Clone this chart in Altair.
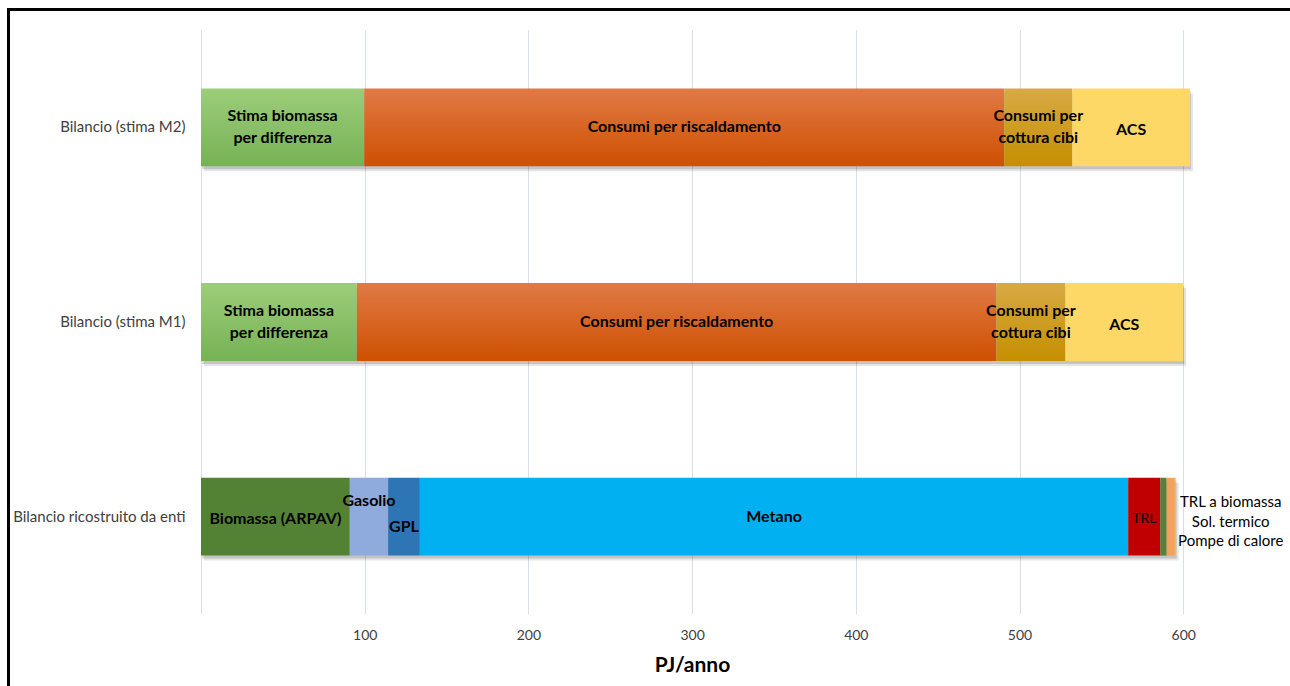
import altair as alt
import pandas as pd

# Energy balance rows (top to bottom)
bilanci = ["Bilancio (stima M2)", "Bilancio (stima M1)", "Bilancio ricostruito da enti"]

# Components of the two estimated balances
stima_fonti = ["Stima biomassa per differenza", "Consumi per riscaldamento",
               "Consumi per cottura cibi", "ACS"]
stima_m2 = [99.7, 391.0, 41.5, 71.9]
stima_m1 = [95.2, 390.7, 42.1, 72.0]

# Components of the balance rebuilt from the agencies' data
enti_fonti = ["Biomassa (ARPAV)", "Gasolio", "GPL", "Metano", "TRL",
              "TRL a biomassa", "Sol. termico", "Pompe di calore"]
enti_valori = [90.9, 23.4, 19.4, 432.7, 19.6, 3.9, 4.9, 0.6]

# Text written on each segment
etichette = {
    "Stima biomassa per differenza": "Stima biomassa\nper differenza",
    "Consumi per riscaldamento": "Consumi per riscaldamento",
    "Consumi per cottura cibi": "Consumi per\ncottura cibi",
    "ACS": "ACS",
    "Biomassa (ARPAV)": "Biomassa (ARPAV)",
    "Gasolio": "Gasolio",
    "GPL": "GPL",
    "Metano": "Metano",
    "TRL": "TRL",
    "TRL a biomassa": "TRL a biomassa",
    "Sol. termico": "Sol. termico",
    "Pompe di calore": "Pompe di calore",
}

x_ticks = [0, 100, 200, 300, 400, 500, 600]

rows = []
for bil, fonti, valori in [(bilanci[0], stima_fonti, stima_m2),
                           (bilanci[1], stima_fonti, stima_m1),
                           (bilanci[2], enti_fonti, enti_valori)]:
    for i, (f, v) in enumerate(zip(fonti, valori)):
        rows.append({"bilancio": bil, "fonte": f, "valore": v, "ordine": i,
                     "etichetta": etichette[f]})
df = pd.DataFrame(rows)


def vgrad(top, bottom):
    return {"gradient": "linear", "x1": 0, "y1": 0, "x2": 0, "y2": 1,
            "stops": [{"offset": 0, "color": top}, {"offset": 1, "color": bottom}]}


riempimenti = {
    "Stima biomassa per differenza": vgrad("#9DCD7B", "#76B255"),
    "Consumi per riscaldamento": vgrad("#E07A46", "#CF5000"),
    "Consumi per cottura cibi": vgrad("#D7AA45", "#C58F00"),
    "ACS": "#FDD867",
    "Biomassa (ARPAV)": "#548235",
    "Gasolio": "#8FAADC",
    "GPL": "#2E75B6",
    "Metano": "#00B0F0",
    "TRL": "#C00000",
    "TRL a biomassa": "#5A7F3A",
    "Sol. termico": "#F4A060",
    "Pompe di calore": "#FFC000",
}

FONT = "Lato"

x_scale = alt.Scale(domain=[0, 664], nice=False, zero=True)
x_axis = alt.Axis(
    values=x_ticks, labelExpr="datum.value == 0 ? '' : datum.label",
    grid=True, gridColor="#DADEE6", gridWidth=1, domain=False, ticks=False,
    labelPadding=14, labelFont=FONT, labelFontSize=14, labelColor="#404040",
    title="PJ/anno", titleFont=FONT, titleFontSize=21, titleFontWeight="bold",
    titleColor="black", titleX=491, titleY=51, titleAlign="center",
    titleBaseline="middle",
)
y_enc = alt.Y(
    "bilancio:N", sort=bilanci,
    scale=alt.Scale(paddingInner=0.6, paddingOuter=0.3),
    axis=alt.Axis(title=None, domain=False, ticks=False, labelPadding=16,
                  labelFont=FONT, labelFontSize=15, labelColor="#404040",
                  labelLimit=300),
)


def x_enc(field):
    return alt.X(field, scale=x_scale, axis=x_axis)


base = alt.Chart(df).transform_stack(
    stack="valore", groupby=["bilancio"], sort=[alt.SortField("ordine")],
    as_=["x0", "x1"],
).transform_calculate(mid="(datum.x0 + datum.x1) / 2")

# Soft drop shadow under each whole bar
totali = alt.Chart(df).transform_aggregate(totale="sum(valore)", groupby=["bilancio"])
ombre = [
    totali.mark_bar(color="black", opacity=0.10, xOffset=3, yOffset=5).encode(
        x=x_enc("totale:Q"), y=y_enc),
    totali.mark_bar(color="black", opacity=0.14, xOffset=1, yOffset=3).encode(
        x=x_enc("totale:Q"), y=y_enc),
]

# Stacked segments, one layer per component so each can carry its own fill
segmenti = [
    base.transform_filter(alt.datum.fonte == f).mark_bar(color=fill).encode(
        x=x_enc("x0:Q"), x2="x1:Q", y=y_enc)
    for f, fill in riempimenti.items()
]


def testo(fonti, dy=0, bold=True, size=16, **kw):
    return base.transform_filter(
        alt.FieldOneOfPredicate(field="fonte", oneOf=fonti)
    ).mark_text(font=FONT, fontSize=size, fontWeight="bold" if bold else "normal",
                color="black", lineBreak="\n", lineHeight=22, dy=dy, **kw).encode(
        x=x_enc("mid:Q"), y=y_enc, text="etichetta:N")


testi = [
    # two-line labels: first line sits at the anchor, so lift the block
    testo(["Stima biomassa per differenza", "Consumi per cottura cibi"], dy=-11),
    testo(["Consumi per riscaldamento", "Metano"]),
    testo(["ACS"], dy=3),
    testo(["Biomassa (ARPAV)"], dy=2),
    testo(["Gasolio"], dy=-16),
    testo(["GPL"], dy=10),
    testo(["TRL"], dy=2, bold=False, size=14),
]

# Labels for the thin slices at the end of the bottom bar
fine = base.transform_joinaggregate(fine="max(x1)", groupby=["bilancio"])
for f, dy in [("TRL a biomassa", -15), ("Sol. termico", 5), ("Pompe di calore", 24)]:
    testi.append(
        fine.transform_filter(alt.datum.fonte == f).mark_text(
            font=FONT, fontSize=15, color="black", align="center", dx=55, dy=dy
        ).encode(x=x_enc("fine:Q"), y=y_enc, text="etichetta:N")
    )

# Frame lines along the top and left edges
unit = pd.DataFrame({"k": [0]})
cornice = [
    alt.Chart(unit).mark_rule(color="black", strokeWidth=3).encode(
        x=alt.value(-192.5), y=alt.value(-22), y2=alt.value(656)),
    alt.Chart(unit).mark_rule(color="black", strokeWidth=3).encode(
        x=alt.value(-194), x2=alt.value(1089), y=alt.value(-20.5)),
]

chart = alt.layer(*ombre, *segmenti, *testi, *cornice).properties(
    width=1087, height=584, autosize="none",
    padding={"left": 201, "top": 30, "right": 2, "bottom": 72},
    background="white",
).configure_view(stroke=None)

chart.save("out.html", embed_options={"renderer": "svg", "actions": False})
